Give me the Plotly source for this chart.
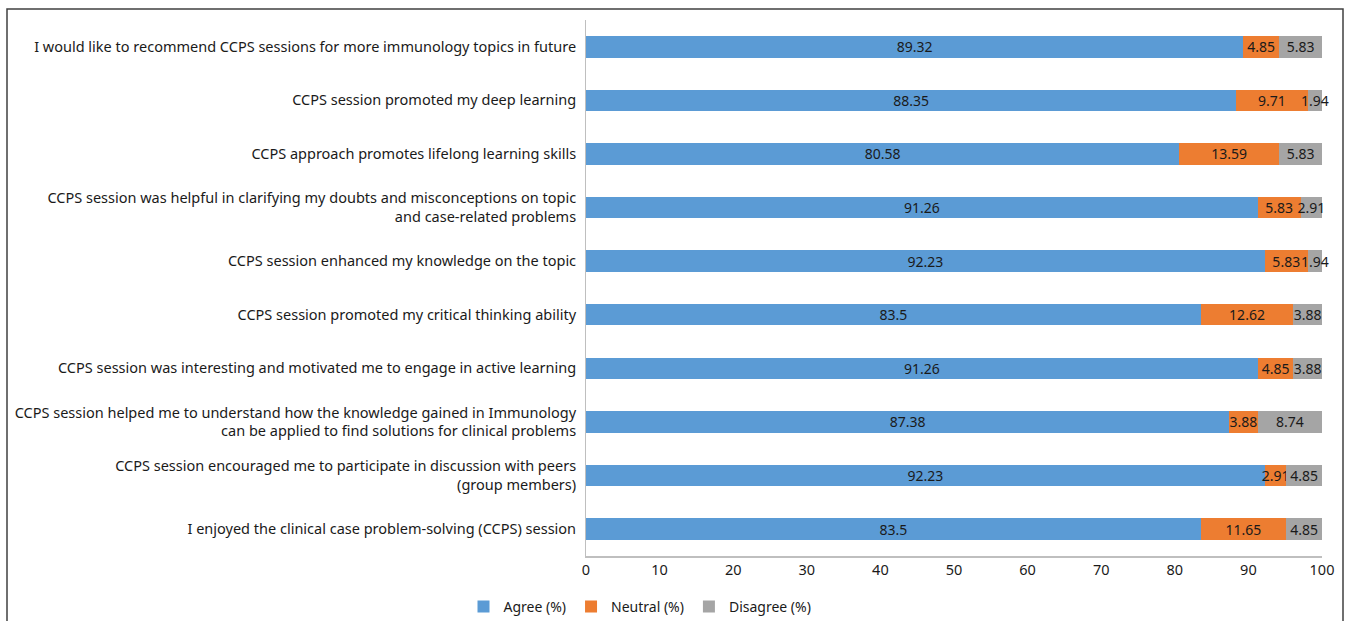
import plotly.graph_objects as go

categories = [
    "I enjoyed the clinical case problem-solving (CCPS) session",
    "CCPS session encouraged me to participate in discussion with peers<br>(group members)",
    "CCPS session helped me to understand how the knowledge gained in Immunology<br>can be applied to find solutions for clinical problems",
    "CCPS session was interesting and motivated me to engage in active learning",
    "CCPS session promoted my critical thinking ability",
    "CCPS session enhanced my knowledge on the topic",
    "CCPS session was helpful in clarifying my doubts and misconceptions on topic<br>and case-related problems",
    "CCPS approach promotes lifelong learning skills",
    "CCPS session promoted my deep learning",
    "I would like to recommend CCPS sessions for more immunology topics in future",
]
agree = [83.5, 92.23, 87.38, 91.26, 83.5, 92.23, 91.26, 80.58, 88.35, 89.32]
neutral = [11.65, 2.91, 3.88, 4.85, 12.62, 5.83, 5.83, 13.59, 9.71, 4.85]
disagree = [4.85, 4.85, 8.74, 3.88, 3.88, 1.94, 2.91, 5.83, 1.94, 5.83]

series = [
    ("Agree (%)", agree, "#5B9BD5"),
    ("Neutral (%)", neutral, "#ED7D31"),
    ("Disagree (%)", disagree, "#A5A5A5"),
]

FONT = "Noto Sans"
TXT = "#1a1a1a"
fig = go.Figure()
for name, vals, color in series:
    fig.add_trace(go.Bar(
        y=categories, x=vals, name=name, orientation="h",
        marker=dict(color=color, line=dict(width=0)),
        text=[f"{v:g}" for v in vals], textposition="inside",
        insidetextanchor="middle", constraintext="none", textangle=0,
        textfont=dict(family=FONT, size=14, color=TXT),
        width=0.4, cliponaxis=False,
    ))

W, H = 1346, 621
L, R, T, B = 586, 24, 20, 63
pw, ph = W - L - R, H - T - B

fig.update_layout(
    barmode="stack",
    width=W, height=H,
    margin=dict(l=L, r=R, t=T, b=B),
    paper_bgcolor="white", plot_bgcolor="white",
    font=dict(family=FONT, size=14.5, color=TXT),
    uniformtext=dict(minsize=14, mode="show"),
    bargap=0.6,
    showlegend=True,
    legend=dict(orientation="h", xref="container", yref="container",
                x=640 / W, xanchor="center", y=1 - 607 / H, yanchor="middle",
                font=dict(family=FONT, size=14, color=TXT),
                itemwidth=30, traceorder="normal", tracegroupgap=0),
    xaxis=dict(range=[0, 100], dtick=10, showgrid=False, zeroline=False,
               showline=True, linecolor="#BFBFBF", linewidth=1.5,
               ticks="", tickfont=dict(family=FONT, size=14.5, color=TXT)),
    yaxis=dict(showgrid=False, zeroline=False, showline=True,
               linecolor="#BFBFBF", linewidth=1, ticks="",
               ticklabelstandoff=6,
               tickfont=dict(family=FONT, size=14.5, color=TXT)),
    shapes=[dict(type="rect", xref="paper", yref="paper",
                 x0=(7 - L) / pw, x1=(1343 - L) / pw,
                 y0=(T + ph - 630) / ph, y1=(T + ph - 9) / ph,
                 line=dict(color="#404040", width=1.5), fillcolor="rgba(0,0,0,0)",
                 layer="below")],
)

fig.write_html("out.html", config={"displayModeBar": False},
               post_script="document.body.style.margin='0';document.body.style.overflow='hidden';")
